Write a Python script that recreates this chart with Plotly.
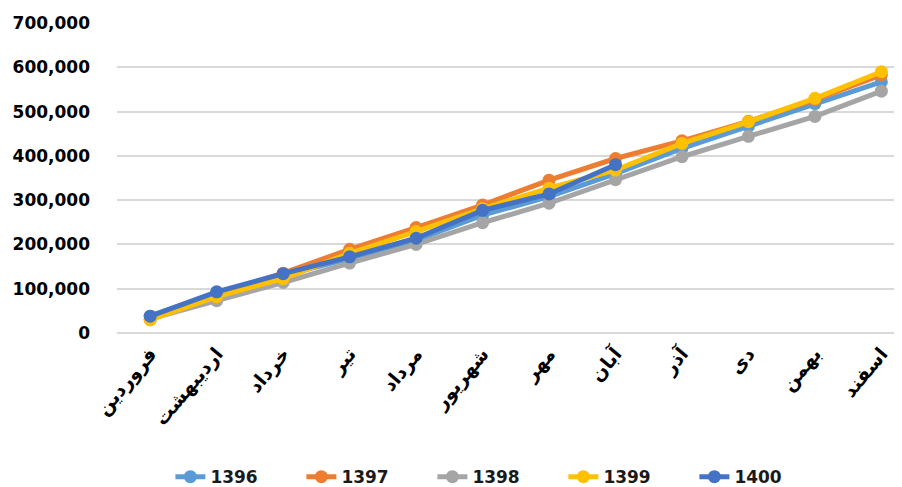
import plotly.graph_objects as go

months = ["فروردین", "اردیبهشت", "خرداد", "تیر", "مرداد", "شهریور",
          "مهر", "آبان", "آذر", "دی", "بهمن", "اسفند"]

y1396 = [38000, 90000, 130000, 168000, 210000, 266000, 308000, 360000, 417000, 467000, 518000, 567000]
y1397 = [30000, 88000, 135000, 189000, 238000, 289000, 345000, 394000, 434000, 478000, 527000, 583000]
y1398 = [32000, 73000, 114000, 158000, 200000, 249000, 293000, 346000, 398000, 444000, 489000, 546000]
y1399 = [30000, 82000, 123000, 180000, 229000, 281000, 327000, 368000, 428000, 477000, 530000, 590000]
y1400 = [38000, 93000, 134000, 172000, 214000, 277000, 314000, 380000, None, None, None, None]

series = [("1396", y1396, "#5B9BD5"), ("1397", y1397, "#ED7D31"),
          ("1398", y1398, "#A5A5A5"), ("1399", y1399, "#FFC000"),
          ("1400", y1400, "#4472C4")]

ytick_vals = [0, 100000, 200000, 300000, 400000, 500000, 600000, 700000]
ytick_text = ["0", "100,000", "200,000", "300,000", "400,000", "500,000", "600,000", "700,000"]

FONT = "DejaVu Sans"

fig = go.Figure()
for name, ys, col in series:
    fig.add_trace(go.Scatter(
        x=list(range(len(months))), y=ys, name=name, mode="lines+markers",
        line=dict(color=col, width=5),
        marker=dict(color=col, size=13, symbol="circle"),
        connectgaps=False, hoverinfo="skip",
    ))

# page body has an 8px default margin, so the figure is sized to fit the window
fig.update_layout(
    width=894, height=479,
    margin=dict(l=109, r=0, t=15, b=154, autoexpand=False),
    paper_bgcolor="white", plot_bgcolor="white",
    font=dict(family=FONT, size=17, color="black", weight="bold"),
    showlegend=True,
    legend=dict(orientation="h", x=0.068, xanchor="left", y=-0.465, yanchor="middle",
                entrywidth=86, entrywidthmode="pixels",
                font=dict(family=FONT, size=17, color="#1a1a1a", weight="bold"),
                traceorder="normal"),
)
fig.update_xaxes(
    range=[-0.5, 11.31], tickmode="array",
    tickvals=list(range(len(months))), ticktext=months,
    tickangle=-50, showgrid=False, zeroline=False, automargin=False,
    showline=False, ticks="", ticklabelstandoff=5,
    tickfont=dict(family=FONT, size=19, color="black", weight="bold"),
)
fig.update_yaxes(
    range=[0, 700000], tickmode="array", tickvals=ytick_vals, ticktext=ytick_text,
    showgrid=True, gridcolor="#D9D9D9", gridwidth=1.5, automargin=False,
    zeroline=True, zerolinecolor="#D9D9D9", zerolinewidth=1.5,
    showline=False, ticks="", ticklabelstandoff=26,
    tickfont=dict(family=FONT, size=17, color="black", weight="bold"),
)

fig.write_html("out.html")
